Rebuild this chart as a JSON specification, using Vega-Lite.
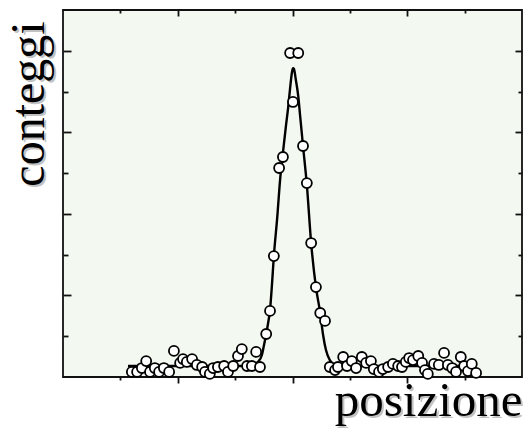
{
  "$schema": "https://vega.github.io/schema/vega-lite/v6.json",
  "width": 459,
  "height": 367,
  "autosize": {"type": "none"},
  "padding": {"left": 63, "top": 10, "right": 3, "bottom": 53},
  "background": "#ffffff",
  "view": {"fill": "#f3f9f0", "stroke": "#111111", "strokeWidth": 1.8},
  "datasets": {
    "curve": [
      {"pos": 13.6, "count": 5.4}, {"pos": 38.1, "count": 5.4}, {"pos": 39.5, "count": 5.9},
      {"pos": 40.8, "count": 7.4}, {"pos": 41.6, "count": 10.8}, {"pos": 42.0, "count": 15.2},
      {"pos": 42.5, "count": 21.1}, {"pos": 42.9, "count": 26.5}, {"pos": 43.3, "count": 32.9},
      {"pos": 43.7, "count": 45.1}, {"pos": 44.1, "count": 59.3}, {"pos": 44.8, "count": 78.0},
      {"pos": 45.4, "count": 96.6}, {"pos": 46.0, "count": 110.0}, {"pos": 46.6, "count": 122.6},
      {"pos": 47.1, "count": 132.4}, {"pos": 47.5, "count": 141.7}, {"pos": 47.9, "count": 149.6},
      {"pos": 48.1, "count": 151.5}, {"pos": 48.3, "count": 151.1}, {"pos": 48.7, "count": 145.7},
      {"pos": 49.2, "count": 137.8}, {"pos": 49.6, "count": 128.0}, {"pos": 50.2, "count": 113.3},
      {"pos": 51.0, "count": 94.2}, {"pos": 51.9, "count": 65.7}, {"pos": 52.9, "count": 44.1},
      {"pos": 53.8, "count": 31.4}, {"pos": 54.4, "count": 20.6}, {"pos": 55.0, "count": 13.2},
      {"pos": 55.8, "count": 8.3}, {"pos": 56.9, "count": 5.9}, {"pos": 59.0, "count": 5.4},
      {"pos": 86.4, "count": 5.4}
    ],
    "points": [
      {"pos": 14.4, "count": 2.5}, {"pos": 15.5, "count": 2.5}, {"pos": 16.5, "count": 4.4},
      {"pos": 17.4, "count": 7.8}, {"pos": 18.2, "count": 2.5}, {"pos": 19.2, "count": 4.4},
      {"pos": 20.1, "count": 2.5}, {"pos": 21.1, "count": 4.4}, {"pos": 22.2, "count": 2.5},
      {"pos": 23.2, "count": 12.8}, {"pos": 24.5, "count": 6.9}, {"pos": 25.1, "count": 8.8},
      {"pos": 25.9, "count": 7.4}, {"pos": 27.0, "count": 8.8}, {"pos": 28.0, "count": 5.9},
      {"pos": 29.1, "count": 4.9}, {"pos": 29.7, "count": 2.5}, {"pos": 30.7, "count": 1.5},
      {"pos": 31.4, "count": 4.4}, {"pos": 32.4, "count": 4.9}, {"pos": 33.7, "count": 5.4},
      {"pos": 34.5, "count": 2.5}, {"pos": 35.6, "count": 5.4}, {"pos": 36.6, "count": 10.3},
      {"pos": 37.4, "count": 13.7}, {"pos": 38.5, "count": 5.4}, {"pos": 39.5, "count": 5.4},
      {"pos": 40.4, "count": 12.3}, {"pos": 41.2, "count": 4.9},
      {"pos": 42.5, "count": 21.1}, {"pos": 43.3, "count": 32.4}, {"pos": 44.1, "count": 59.3},
      {"pos": 45.2, "count": 102.5}, {"pos": 46.0, "count": 107.9}, {"pos": 47.5, "count": 158.9},
      {"pos": 48.1, "count": 134.9}, {"pos": 49.2, "count": 158.9}, {"pos": 50.2, "count": 113.3},
      {"pos": 51.0, "count": 95.1}, {"pos": 51.9, "count": 65.7}, {"pos": 52.9, "count": 44.1},
      {"pos": 53.8, "count": 31.4}, {"pos": 54.8, "count": 27.5},
      {"pos": 55.8, "count": 4.9}, {"pos": 56.9, "count": 3.4}, {"pos": 57.5, "count": 4.9},
      {"pos": 58.6, "count": 9.8}, {"pos": 59.4, "count": 5.4}, {"pos": 60.4, "count": 7.8},
      {"pos": 61.3, "count": 4.4}, {"pos": 62.5, "count": 9.8}, {"pos": 63.4, "count": 6.9},
      {"pos": 64.4, "count": 7.8}, {"pos": 65.0, "count": 3.9}, {"pos": 66.1, "count": 2.5},
      {"pos": 66.9, "count": 3.9}, {"pos": 68.0, "count": 4.9}, {"pos": 69.0, "count": 6.4},
      {"pos": 70.1, "count": 5.4}, {"pos": 70.9, "count": 4.9}, {"pos": 71.7, "count": 7.4},
      {"pos": 72.4, "count": 9.3}, {"pos": 73.2, "count": 8.3}, {"pos": 74.3, "count": 10.3},
      {"pos": 75.1, "count": 6.9}, {"pos": 75.7, "count": 3.4}, {"pos": 76.3, "count": 1.5},
      {"pos": 77.6, "count": 6.4}, {"pos": 78.6, "count": 5.9}, {"pos": 79.7, "count": 11.8},
      {"pos": 80.5, "count": 5.9}, {"pos": 81.4, "count": 4.4}, {"pos": 82.2, "count": 2.5},
      {"pos": 83.2, "count": 9.8}, {"pos": 83.9, "count": 5.4}, {"pos": 84.7, "count": 2.9},
      {"pos": 85.5, "count": 6.4}, {"pos": 86.4, "count": 2.0}
    ]
  },
  "layer": [
    {
      "data": {"name": "curve"},
      "mark": {"type": "line", "color": "#000000", "strokeWidth": 2.4, "interpolate": "monotone"},
      "encoding": {
        "x": {
          "field": "pos", "type": "quantitative",
          "scale": {"domain": [0, 96], "nice": false, "zero": false},
          "axis": {
            "orient": "bottom", "values": [24, 48, 72], "tickSize": 6, "tickWidth": 1.8, "tickColor": "#111111",
            "labels": false, "domain": false, "grid": false,
            "title": "posizione", "titleFont": "Liberation Serif", "titleFontSize": 49, "titleFontWeight": "normal",
            "titleColor": "#c2c2c2", "titleAlign": "right", "titleBaseline": "alphabetic", "titleX": 461, "titleY": 40
          }
        },
        "y": {
          "field": "count", "type": "quantitative",
          "scale": {"domain": [0, 180], "nice": false, "zero": false},
          "axis": {
            "orient": "left", "values": [40, 80, 120, 160], "tickSize": -8, "tickWidth": 1.8, "tickColor": "#111111",
            "labels": false, "domain": false, "grid": false,
            "title": "conteggi", "titleFont": "Liberation Serif", "titleFontSize": 48, "titleFontWeight": "normal",
            "titleColor": "#c2c2c2", "titleAngle": 270, "titleAlign": "center", "titleBaseline": "alphabetic",
            "titleX": -18, "titleY": 95.5
          }
        }
      }
    },
    {
      "data": {"name": "points"},
      "mark": {"type": "circle", "fill": "#ffffff", "stroke": "#000000", "strokeWidth": 1.8, "size": 100, "opacity": 1},
      "encoding": {
        "x": {
          "field": "pos", "type": "quantitative",
          "axis": {
            "orient": "bottom", "values": [12, 36, 60, 84], "tickSize": 3, "tickWidth": 1.8, "tickColor": "#111111",
            "labels": false, "domain": false, "grid": false,
            "title": "posizione", "titleFont": "Liberation Serif", "titleFontSize": 49, "titleFontWeight": "normal",
            "titleColor": "#000000", "titleAlign": "right", "titleBaseline": "alphabetic", "titleX": 459, "titleY": 38
          }
        },
        "y": {
          "field": "count", "type": "quantitative",
          "axis": {
            "orient": "left", "values": [20, 60, 100, 140], "tickSize": -5, "tickWidth": 1.8, "tickColor": "#111111",
            "labels": false, "domain": false, "grid": false,
            "title": "conteggi", "titleFont": "Liberation Serif", "titleFontSize": 48, "titleFontWeight": "normal",
            "titleColor": "#000000", "titleAngle": 270, "titleAlign": "center", "titleBaseline": "alphabetic",
            "titleX": -20, "titleY": 93.5
          }
        }
      }
    },
    {
      "data": {"name": "points"},
      "mark": {"type": "circle", "opacity": 0},
      "encoding": {
        "x": {
          "field": "pos", "type": "quantitative",
          "axis": {
            "orient": "top", "values": [24, 48, 72], "tickSize": -6, "tickWidth": 1.8, "tickColor": "#111111",
            "labels": false, "domain": false, "grid": false, "title": null
          }
        },
        "y": {
          "field": "count", "type": "quantitative",
          "axis": {
            "orient": "right", "values": [40, 80, 120, 160], "tickSize": -7, "tickWidth": 1.8, "tickColor": "#111111",
            "labels": false, "domain": false, "grid": false, "title": null
          }
        }
      }
    },
    {
      "data": {"name": "points"},
      "mark": {"type": "circle", "opacity": 0},
      "encoding": {
        "x": {
          "field": "pos", "type": "quantitative",
          "axis": {
            "orient": "top", "values": [12, 36, 60, 84], "tickSize": -3, "tickWidth": 1.8, "tickColor": "#111111",
            "labels": false, "domain": false, "grid": false, "title": null
          }
        },
        "y": {
          "field": "count", "type": "quantitative",
          "axis": {
            "orient": "right", "values": [20, 60, 100, 140], "tickSize": -4, "tickWidth": 1.8, "tickColor": "#111111",
            "labels": false, "domain": false, "grid": false, "title": null
          }
        }
      }
    }
  ],
  "resolve": {"axis": {"x": "independent", "y": "independent"}}
}
